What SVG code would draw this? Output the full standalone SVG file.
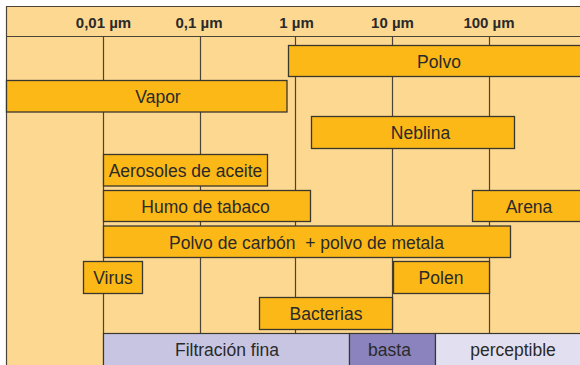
<svg xmlns="http://www.w3.org/2000/svg" width="580" height="365" viewBox="0 0 580 365">
<style>
.bg{fill:#fdd891}
.grid{stroke:#4a4436;stroke-width:1.2;fill:none}
.box{fill:#fbb817;stroke:#3a372f;stroke-width:1.3}
.lbl{font-family:"Liberation Sans",Arial,sans-serif;font-size:17.5px;fill:#2a2a2a;text-anchor:middle}
.hdr{font-family:"Liberation Sans",Arial,sans-serif;font-size:15px;font-weight:bold;fill:#2a2a2a;text-anchor:middle}
</style>
<rect class="bg" x="6" y="6" width="580" height="365"/>
<g id="grid">
<line class="grid" x1="6" y1="6.5" x2="580" y2="6.5" stroke="#222"/>
<line class="grid" x1="6.5" y1="6" x2="6.5" y2="365" stroke="#222"/>
<line class="grid" x1="6" y1="36.5" x2="580" y2="36.5"/>
<line class="grid" x1="103.5" y1="36" x2="103.5" y2="365"/>
<line class="grid" x1="200.5" y1="36" x2="200.5" y2="333"/>
<line class="grid" x1="295.5" y1="36" x2="295.5" y2="333"/>
<line class="grid" x1="392.5" y1="36" x2="392.5" y2="333"/>
<line class="grid" x1="489.5" y1="36" x2="489.5" y2="333"/>
</g>
<g id="header">
<text class="hdr" x="103.5" y="28">0,01 µm</text>
<text class="hdr" x="199" y="28">0,1 µm</text>
<text class="hdr" x="296.5" y="28">1 µm</text>
<text class="hdr" x="392.5" y="28">10 µm</text>
<text class="hdr" x="489" y="28">100 µm</text>
</g>
<g id="polvo"><rect class="box" x="288.5" y="45.5" width="300" height="31"/><text class="lbl" x="439" y="67.5">Polvo</text></g>
<g id="vapor"><rect class="box" x="6.5" y="80.5" width="280.5" height="31.5"/><text class="lbl" x="158" y="102.5">Vapor</text></g>
<g id="neblina"><rect class="box" x="311.5" y="116.5" width="203" height="32"/><text class="lbl" x="420.5" y="139">Neblina</text></g>
<g id="aerosoles"><rect class="box" x="103.5" y="154.5" width="164" height="31.5"/><text class="lbl" x="185.5" y="177">Aerosoles de aceite</text></g>
<g id="humo"><rect class="box" x="103.5" y="190.5" width="207" height="31"/><text class="lbl" x="205.5" y="212.5">Humo de tabaco</text></g>
<g id="arena"><rect class="box" x="472.5" y="190.5" width="115" height="31"/><text class="lbl" x="529" y="212.5">Arena</text></g>
<g id="carbon"><rect class="box" x="103.5" y="226" width="407" height="31.5"/><text class="lbl" x="306.5" y="248.5" xml:space="preserve">Polvo de carbón  + polvo de metala</text></g>
<g id="virus"><rect class="box" x="83.5" y="261.5" width="59" height="32"/><text class="lbl" x="113" y="284">Virus</text></g>
<g id="polen"><rect class="box" x="393.5" y="261.5" width="96" height="32"/><text class="lbl" x="441" y="284">Polen</text></g>
<g id="bacterias"><rect class="box" x="259.5" y="297.5" width="133" height="32"/><text class="lbl" x="326" y="320">Bacterias</text></g>
<g id="filtracion">
<rect x="103.5" y="333.5" width="246" height="33" fill="#c8c5e2" stroke="#3a372f" stroke-width="1.2"/>
<text class="lbl" x="227" y="356">Filtración fina</text>
</g>
<g id="basta">
<rect x="349.5" y="333.5" width="86" height="33" fill="#8a83bd" stroke="#3a372f" stroke-width="1.2"/>
<text class="lbl" x="389.5" y="356">basta</text>
</g>
<g id="perceptible">
<rect x="435.5" y="333.5" width="150" height="33" fill="#e2e0f0" stroke="#3a372f" stroke-width="1.2"/>
<text class="lbl" x="513" y="356">perceptible</text>
</g>
</svg>
